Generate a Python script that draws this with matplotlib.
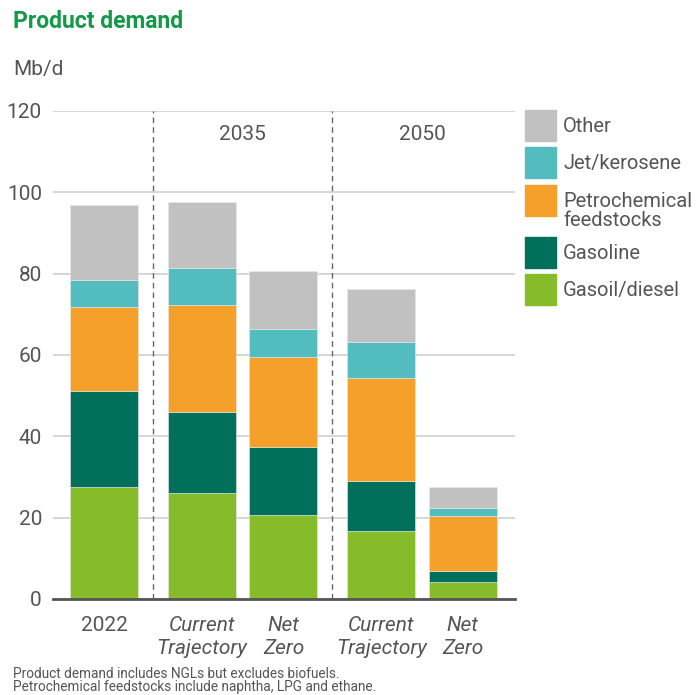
import matplotlib
matplotlib.use("Agg")
import matplotlib.pyplot as plt
from matplotlib.patches import Rectangle

plt.rcParams["font.family"] = ["Roboto", "DejaVu Sans"]

# ── Data ──────────────────────────────────────────────────────────────────────
bar_labels = ["2022", "Current\nTrajectory", "Net\nZero", "Current\nTrajectory", "Net\nZero"]
italic     = [False, True, True, True, True]
groups     = ["2035", "2050"]

gasoil     = [27.6, 26.1, 20.7, 16.6, 4.3]
gasoline   = [23.5, 19.8, 16.6, 12.3, 2.7]
petchem    = [20.7, 26.4, 22.3, 25.5, 13.4]
jet        = [6.6, 9.0, 6.8, 8.7, 1.9]
other      = [18.5, 16.3, 14.2, 13.1, 5.2]

series_names = ["Gasoil/diesel", "Gasoline", "Petrochemical\nfeedstocks", "Jet/kerosene", "Other"]
series_vals  = [gasoil, gasoline, petchem, jet, other]
COLOURS      = ["#86bc29", "#00705a", "#f5a02b", "#52bcbf", "#c1c1c1"]

TEXT  = "#555555"
GREEN = "#119a48"
GRID  = "#cccccc"

# ── Layout ────────────────────────────────────────────────────────────────────
W, H = 699, 695
fig = plt.figure(figsize=(W / 100, H / 100), dpi=100, facecolor="white")

def px(x0, y0, x1, y1):
    return [x0 / W, 1 - y1 / H, (x1 - x0) / W, (y1 - y0) / H]

ax = fig.add_axes(px(53, 111, 515, 599))

xpos = [0, 1.2, 2.2, 3.4, 4.4]
bottom = [0.0] * len(xpos)
for name, vals, col in zip(series_names, series_vals, COLOURS):
    ax.bar(xpos, vals, width=0.835, bottom=bottom, color=col,
           edgecolor="#e8e8e8", linewidth=0.4, zorder=3)
    bottom = [b + v for b, v in zip(bottom, vals)]

ax.set_xlim(-0.626, 5.04)
ax.set_ylim(0, 120)
ax.set_yticks(range(0, 121, 20))
ax.yaxis.grid(True, color=GRID, linewidth=1.1, zorder=0)
ax.set_axisbelow(True)
for s in ["top", "right", "left"]:
    ax.spines[s].set_visible(False)
ax.spines["bottom"].set_color("#555555")
ax.spines["bottom"].set_linewidth(2)
ax.spines["bottom"].set_zorder(5)
ax.tick_params(axis="y", length=0, pad=8, labelsize=15, labelcolor=TEXT)
ax.tick_params(axis="x", length=0, pad=12)
ax.set_xticks(xpos)
ax.set_xticklabels(bar_labels, fontsize=15, color=TEXT, linespacing=1.3)
for lab, it in zip(ax.get_xticklabels(), italic):
    if it:
        lab.set_style("italic")

# dashed separators and group headers
for xd in [0.605, 2.79]:
    ax.axvline(xd, color="#666666", linestyle=(0, (4, 3)), linewidth=1, zorder=4)
ax.text((xpos[1] + xpos[2]) / 2, 114.3, groups[0], ha="center", va="center",
        fontsize=15, color=TEXT)
ax.text((xpos[3] + xpos[4]) / 2, 114.3, groups[1], ha="center", va="center",
        fontsize=15, color=TEXT)

# ── Legend (manual, top first) ────────────────────────────────────────────────
lg = fig.add_axes([0, 0, 1, 1], facecolor="none")
lg.set_xlim(0, W)
lg.set_ylim(H, 0)
lg.axis("off")
leg_y = [110, 147, 185, 237, 274]
leg_order = [4, 3, 2, 1, 0]
for y, idx in zip(leg_y, leg_order):
    lg.add_patch(Rectangle((525, y), 31, 31, color=COLOURS[idx]))
    name = series_names[idx]
    ty = y + 16.5 if "\n" not in name else y + 26
    lg.text(563, ty, name, ha="left", va="center", fontsize=14.5,
            color=TEXT, linespacing=0.95)

# ── Titles & notes ────────────────────────────────────────────────────────────
fig.text(13 / W, 1 - 21 / H, "Product demand", ha="left", va="center",
         fontsize=16.5, fontweight="bold", color=GREEN)
fig.text(13 / W, 1 - 70 / H, "Mb/d", ha="left", va="center",
         fontsize=15, color=TEXT)
fig.text(13 / W, 1 - 674 / H, "Product demand includes NGLs but excludes biofuels.",
         ha="left", va="center", fontsize=9.8, color=TEXT)
fig.text(13 / W, 1 - 687.5 / H, "Petrochemical feedstocks include naphtha, LPG and ethane.",
         ha="left", va="center", fontsize=9.8, color=TEXT)

fig.savefig("out.png", dpi=100, facecolor="white")
